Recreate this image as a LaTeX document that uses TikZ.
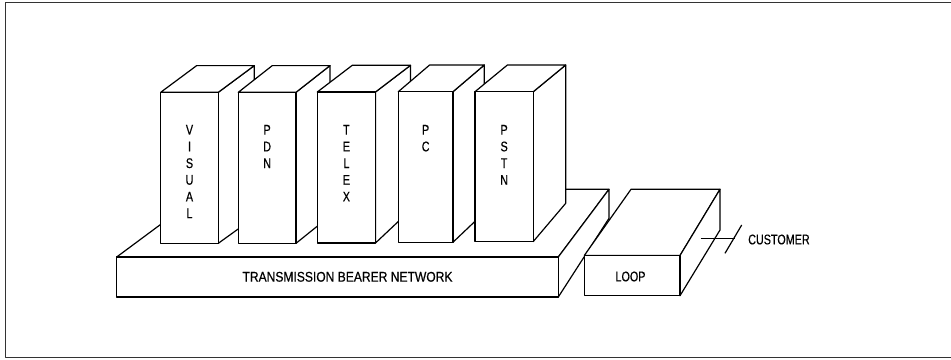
\documentclass[tikz,border=0pt]{standalone}
\usepackage{fontspec}
\newfontfamily\narrowsans[FakeStretch=0.77,FakeBold=0.5]{Liberation Sans}

% One service unit: right face, top face, front face (a named node) and
% its vertically stacked label letters.
% #1 name, #2 left, #3 right, #4 top, #5 bottom, #6 depth in x,
% #7 y of the back bottom corner of the right face, #8 letters
\newcommand\serviceunit[8]{%
  \path[face] (#3,#4) -- ++(#6,-26.7) -- (#3+#6,#7) -- (#3,#5) -- cycle;
  \path[face] (#2,#4) -- ++(#6,-26.7) -- ++(#3-#2,0) -- (#3,#4) -- cycle;
  \node[front, minimum width=#3-#2, minimum height=#5-#4]
    (#1) at ({(#2+#3)/2},{(#4+#5)/2}) {};
  \foreach \ch [count=\k] in {#8}
    \node[lbl] (#1-\k) at ({(#2+#3)/2},{129.8+16.7*(\k-1)}) {\ch};
}

\begin{document}
\begin{tikzpicture}[x=1pt, y=-1pt, line join=round,
  edge/.style={line width=1.2pt, draw=black},
  face/.style={edge, fill=white},
  front/.style={face, rectangle, inner sep=0pt, outer sep=0pt},
  lbl/.style={font=\narrowsans\fontsize{14}{16}\selectfont, inner sep=0pt},
  frame/.style={line width=1.3pt, draw=black!80}]

\useasboundingbox (0,0) rectangle (951,359);

% outer frame (open on the right)
\draw[frame] (951,2.7) -- (5.7,2.7) -- (5.7,357.3) -- (951,357.3);

% transmission bearer network platform
\path[face] (116.7,257) -- (208,189.3) -- (609,189.3) -- (558.3,257) -- cycle;
\path[face] (558.3,257) -- (609,189.3) -- (609,218.3) -- (558.3,297) -- cycle;
\node[front, minimum width=441.6, minimum height=40] (tbn) at (337.5,277) {};
\node[lbl] (tbn-text) at (347.5,276.8)
  {\scalebox{1.12}[1]{TRANSMISSION BEARER NETWORK}};

% loop block
\path[face] (584.3,255.5) -- (631,189.3) -- (720,189.3) -- (680,255.5) -- cycle;
\path[face] (680,255.5) -- (720,189.3) -- (720,230) -- (680,295.7) -- cycle;
\node[front, minimum width=95.7, minimum height=40.2] (loop) at (632.2,275.6) {};
\node[lbl] (loop-text) at (630.5,276.5) {LOOP};

% service units standing on the platform
\serviceunit{visual}{160.7}{218.3}{92.3}{243.3}{36}{217.4}{V,I,S,U,A,L}
\serviceunit{pdn}{238.3}{296}{92.3}{243.3}{34}{216}{P,D,N}
\serviceunit{telex}{317.3}{375.5}{92}{243}{35}{210}{T,E,L,E,X}
\serviceunit{pc}{398.3}{453}{91.7}{242.2}{31.3}{212.5}{P,C}
\serviceunit{pstn}{475}{533.3}{91.7}{241.5}{32.4}{203.3}{P,S,T,N}

% customer connection with break mark
\coordinate (cust-start) at (700.7,238.7);
\coordinate (cust-end) at (735,238.7);
\coordinate (break-low) at (725,253.3);
\coordinate (break-high) at (741.7,225);
\draw[edge] (cust-start) -- (cust-end);
\draw[edge] (break-low) -- (break-high);
\node[lbl, anchor=west] (customer) at (748,239.5) {CUSTOMER};

\end{tikzpicture}
\end{document}
